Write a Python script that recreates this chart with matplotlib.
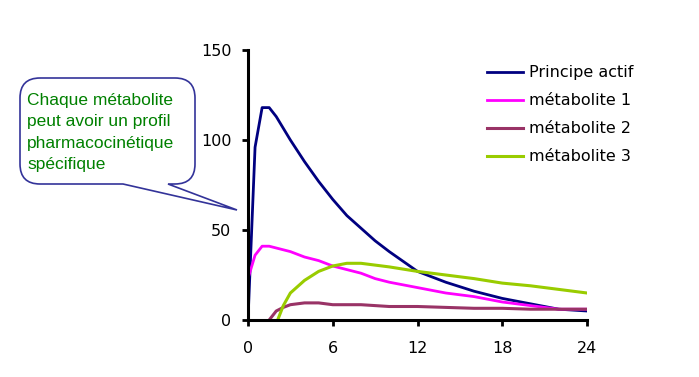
import numpy as np
import matplotlib.pyplot as plt
from matplotlib.path import Path
from matplotlib.patches import PathPatch

# temps (h) et concentrations
t_pa = [0, 0.5, 1, 1.5, 2, 3, 4, 5, 6, 7, 8, 9, 10, 12, 14, 16, 18, 20, 22, 24]
c_pa = [0, 96, 118, 118, 113, 100, 88, 77, 67, 58, 51, 44, 38, 27, 21, 16, 12, 9, 6, 5]

t_m1 = [0, 0.5, 1, 1.5, 2, 3, 4, 5, 6, 7, 8, 9, 10, 12, 14, 16, 18, 20, 22, 24]
c_m1 = [23, 36, 41, 41, 40, 38, 35, 33, 30, 28, 26, 23, 21, 18, 15, 13, 10, 8, 6, 6]

t_m2 = [1.5, 2, 2.5, 3, 4, 5, 6, 8, 10, 12, 14, 16, 18, 20, 22, 24]
c_m2 = [0, 5, 7, 8.5, 9.5, 9.5, 8.5, 8.5, 7.5, 7.5, 7, 6.5, 6.5, 6, 6, 6]

t_m3 = [2.1, 2.5, 3, 4, 5, 6, 7, 8, 9, 10, 12, 14, 16, 18, 20, 22, 24]
c_m3 = [0, 8, 15, 22, 27, 30, 31.5, 31.5, 30.5, 29.5, 27, 25, 23, 20.5, 19, 17, 15]

labels = ['Principe actif', 'métabolite 1', 'métabolite 2', 'métabolite 3']
colors = ['#000080', '#FF00FF', '#993366', '#99CC00']

fig = plt.figure(figsize=(6.99, 3.77), dpi=100)
ax = fig.add_axes([248/699, 1 - 320/377, 339/699, 270/377])

ax.plot(t_pa, c_pa, color=colors[0], lw=2, label=labels[0])
ax.plot(t_m1, c_m1, color=colors[1], lw=2, label=labels[1])
ax.plot(t_m2, c_m2, color=colors[2], lw=2.2, label=labels[2])
ax.plot(t_m3, c_m3, color=colors[3], lw=2.2, label=labels[3])

ax.set_xlim(0, 24)
ax.set_ylim(0, 150)
ax.set_xticks([0, 6, 12, 18, 24])
ax.set_yticks([0, 50, 100, 150])
for s in ['top', 'right']:
    ax.spines[s].set_visible(False)
for s in ['left', 'bottom']:
    ax.spines[s].set_linewidth(2.2)
ax.tick_params(direction='out', length=4, width=2, labelsize=11.5)
ax.tick_params(axis='x', pad=11)
ax.tick_params(axis='y', pad=8)
ax.margins(0)

ax.legend(loc='upper left', bbox_to_anchor=(233/339, 1.0 - 9/270), frameon=False,
          fontsize=11.5, handlelength=2.2, handletextpad=0.4, labelspacing=0.81, borderaxespad=0)

# bulle (coordonnees en pixels de la figure)
ov = fig.add_axes([0, 0, 1, 1], facecolor='none')
ov.set_xlim(0, 699)
ov.set_ylim(377, 0)
ov.axis('off')
L, R, T, B, r = 20, 195, 78, 184, 20
verts = [(L + r, T), (R - r, T), (R, T), (R, T + r), (R, B - r), (R, B), (R - r, B),
         (168, B), (237, 210), (123, B), (L + r, B), (L, B), (L, B - r), (L, T + r), (L, T), (L + r, T)]
codes = [Path.MOVETO, Path.LINETO, Path.CURVE3, Path.CURVE3, Path.LINETO, Path.CURVE3, Path.CURVE3,
         Path.LINETO, Path.LINETO, Path.LINETO, Path.LINETO, Path.CURVE3, Path.CURVE3, Path.LINETO,
         Path.CURVE3, Path.CURVE3]
ov.add_patch(PathPatch(Path(verts, codes), facecolor='white', edgecolor='#333399', lw=1.2))
ov.text(27, 93, 'Chaque métabolite\npeut avoir un profil\npharmacocinétique\nspécifique',
        color='#008000', fontsize=12.5, family='Liberation Sans', va='top', ha='left', linespacing=1.53)

fig.savefig('out.png', dpi=100)
